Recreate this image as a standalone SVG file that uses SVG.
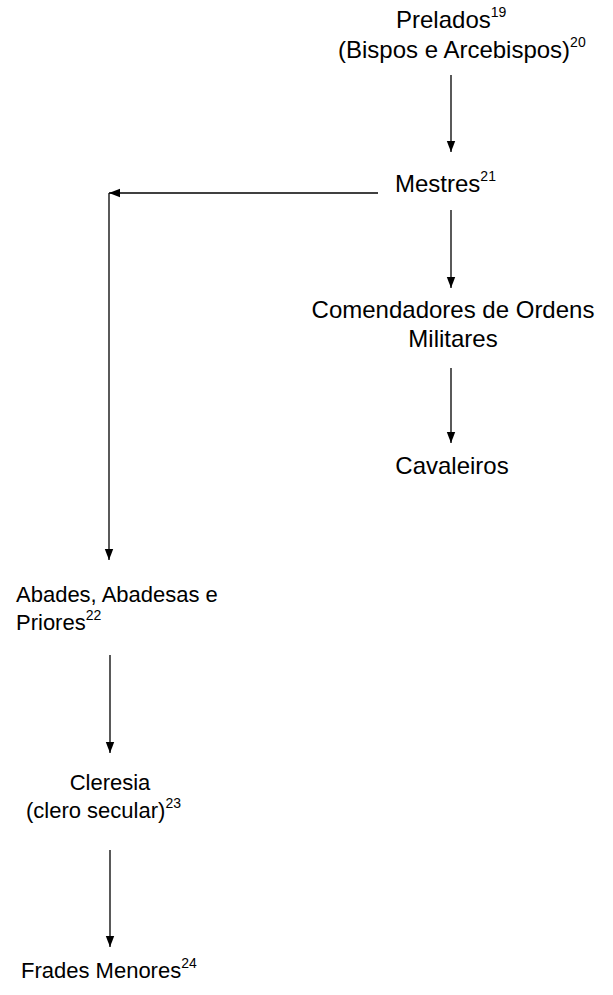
<svg xmlns="http://www.w3.org/2000/svg" width="613" height="995" viewBox="0 0 613 995">
<style>
text{font-family:"Liberation Sans",Arial,sans-serif;font-size:24px;fill:#000}
.l{font-size:22px}
.c{text-anchor:middle}
.sup{font-size:14px}
.ln{stroke:#000;stroke-width:1.3;fill:none}
</style>
<defs>
<marker id="ah" markerWidth="12" markerHeight="10" refX="11" refY="5" orient="auto" markerUnits="userSpaceOnUse">
<path d="M0,0.8 L11,5 L0,9.2 Z" fill="#000"/>
</marker>
</defs>
<rect width="613" height="995" fill="#fff"/>
<g id="prelados">
<text x="396" y="28">Prelados<tspan class="sup" dy="-11">19</tspan></text>
<text x="338" y="58">(Bispos e Arcebispos)<tspan class="sup" dy="-11">20</tspan></text>
</g>
<g id="mestres">
<text x="395" y="192">Mestres<tspan class="sup" dy="-11">21</tspan></text>
</g>
<g id="comendadores">
<text x="453" y="318" class="c">Comendadores de Ordens</text>
<text x="453" y="347" class="c">Militares</text>
</g>
<g id="cavaleiros">
<text x="452" y="474" class="c">Cavaleiros</text>
</g>
<g id="abades">
<text class="l" x="16" y="602">Abades, Abadesas e</text>
<text class="l" x="16" y="630">Priores<tspan class="sup" dy="-10">22</tspan></text>
</g>
<g id="cleresia">
<text class="l c" x="110" y="790">Cleresia</text>
<text class="l" x="26" y="818">(clero secular)<tspan class="sup" dy="-10">23</tspan></text>
</g>
<g id="frades">
<text class="l" x="21" y="978">Frades Menores<tspan class="sup" dy="-10">24</tspan></text>
</g>
<g id="connectors">
<line class="ln" x1="451" y1="75" x2="451" y2="152" marker-end="url(#ah)"/>
<line class="ln" x1="378" y1="193" x2="109" y2="193" marker-end="url(#ah)"/>
<polyline class="ln" points="109,193 109,560" marker-end="url(#ah)"/>
<line class="ln" x1="451" y1="210" x2="451" y2="288" marker-end="url(#ah)"/>
<line class="ln" x1="451" y1="368" x2="451" y2="443" marker-end="url(#ah)"/>
<line class="ln" x1="110" y1="655" x2="110" y2="753" marker-end="url(#ah)"/>
<line class="ln" x1="110" y1="850" x2="110" y2="947" marker-end="url(#ah)"/>
</g>
</svg>
